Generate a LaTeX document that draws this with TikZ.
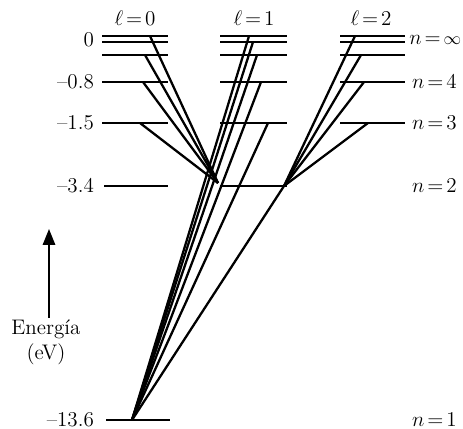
\documentclass[tikz,border=0pt]{standalone}
\usetikzlibrary{arrows.meta}
\tikzset{
  nivel/.style={line width=1.1pt},
  salto/.style={line width=1.3pt},
  etq/.style={font=\large,inner sep=1pt}
}
\newcommand{\igual}{\mskip2.5mu{=}\mskip2.5mu}

\begin{document}
\begin{tikzpicture}[x=0.02cm,y=-0.02cm]
\useasboundingbox (0,0) rectangle (463,429);

% --- niveles de energia ---
\foreach \y in {36,42,55,82,123}{
  \draw[nivel] (102,\y) -- (168,\y);
  \draw[nivel] (220,\y) -- (287,\y);
  \draw[nivel] (340,\y) -- (405,\y);
}
\draw[nivel] (104,186) -- (168,186);
\draw[nivel] (220,186) -- (287,186);
\draw[nivel] (106,420) -- (170,420);

% --- puntos de llegada ---
\coordinate (dosP) at (218,183);
\coordinate (dosD) at (284,186);
\coordinate (unoS) at (132,420);

% --- l=0 -> n=2, l=1 ---
\foreach \x/\y [count=\i] in {150/36,145/55,143/82,140/123}{
  \coordinate (s\i) at (\x,\y);
  \draw[salto] (s\i) -- (dosP);
}
% --- l=2 -> n=2, l=1 ---
\foreach \x/\y [count=\i] in {355/36,361/55,364/82,368/123}{
  \coordinate (d\i) at (\x,\y);
  \draw[salto] (d\i) -- (dosD);
}
% --- l=1 -> n=1, l=0 ---
\foreach \x/\y [count=\i] in {249/36,253/42,257/55,261/82,268/123}{
  \coordinate (p\i) at (\x,\y);
  \draw[salto] (p\i) -- (unoS);
}
\draw[salto] (dosD) -- (unoS);

% --- etiquetas ---
\node[etq] (l0) at (135,18) {$\ell\igual 0$};
\node[etq] (l1) at (254,18) {$\ell\igual 1$};
\node[etq] (l2) at (371,18) {$\ell\igual 2$};

\node[etq,anchor=east] (e0) at (96,40) {0};
\node[etq,anchor=east] (e4) at (96,82) {--0.8};
\node[etq,anchor=east] (e3) at (96,123) {--1.5};
\node[etq,anchor=east] (e2) at (96,186) {--3.4};
\node[etq,anchor=east] (e1) at (96,420) {--13.6};

\node[etq,anchor=west,inner sep=0pt] (ninf) at (409,40) {$n\igual\mbox{\normalsize$\infty$}$};
\node[etq,anchor=west] (n4) at (410,82) {$n\igual 4$};
\node[etq,anchor=west] (n3) at (410,123) {$n\igual 3$};
\node[etq,anchor=west] (n2) at (410,186) {$n\igual 2$};
\node[etq,anchor=west] (n1) at (410,420) {$n\igual 1$};

% --- eje de energia ---
\node[etq,align=center] (ener) at (46,342) {Energía\\(eV)};
\coordinate (tope) at (49,229);
\draw[line width=1pt,-{Triangle[length=9pt,width=7pt]}] (ener.north -| tope) -- (tope);
\end{tikzpicture}
\end{document}
